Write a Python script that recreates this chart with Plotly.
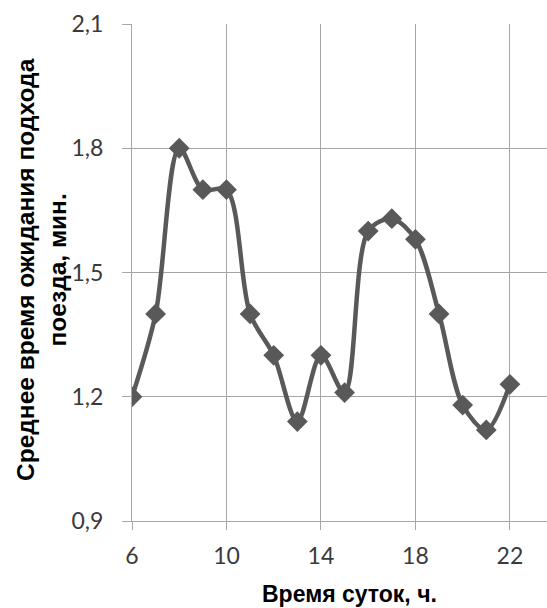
import plotly.graph_objects as go

hours = [6, 7, 8, 9, 10, 11, 12, 13, 14, 15, 16, 17, 18, 19, 20, 21, 22]
wait_min = [1.20, 1.40, 1.80, 1.70, 1.70, 1.40, 1.30, 1.14, 1.30, 1.21, 1.60, 1.63, 1.58, 1.40, 1.18, 1.12, 1.23]
x_ticks = [6, 10, 14, 18, 22]
y_ticks = [0.9, 1.2, 1.5, 1.8, 2.1]

x_title = "Время суток, ч."
y_title = "Среднее время ожидания подхода<br>поезда, мин."

col = "#595959"
grid = "#a6a6a6"

fig = go.Figure(go.Scatter(
    x=hours, y=wait_min, mode="lines+markers",
    line=dict(color=col, width=4.5, shape="spline", smoothing=0.9),
    marker=dict(symbol="diamond", size=16, color=col),
    showlegend=False,
))

fig.update_layout(
    width=547, height=608,
    margin=dict(l=132, r=0, t=24, b=87),
    paper_bgcolor="white", plot_bgcolor="white",
    separators=", ",
    font=dict(family="Lato", size=23, color="#3a3a3a"),
)
fig.update_xaxes(
    range=[6, 23.57], tickvals=x_ticks, ticktext=[str(v) for v in x_ticks],
    showgrid=True, gridcolor=grid, gridwidth=1,
    showline=True, linecolor=grid, linewidth=1,
    ticks="outside", ticklen=8, tickcolor=grid, zeroline=False,
    ticklabelstandoff=6,
)
fig.update_yaxes(
    range=[0.9, 2.1], tickvals=y_ticks, ticktext=[f"{v:.1f}".replace(".", ",") for v in y_ticks],
    showgrid=True, gridcolor=grid, gridwidth=1,
    showline=True, linecolor=grid, linewidth=1,
    ticks="outside", ticklen=9, tickcolor=grid, zeroline=False,
    ticklabelstandoff=14,
)
fig.add_annotation(
    text=x_title, xref="paper", yref="paper",
    x=(349 - 132) / 415, y=-(594 - 521) / 497, xanchor="center", yanchor="middle",
    showarrow=False, font=dict(family="Liberation Sans", size=23, color="black", weight="bold"),
)
fig.add_annotation(
    text=y_title, xref="paper", yref="paper", textangle=-90,
    x=(41 - 132) / 415, y=(521 - 270) / 497, xanchor="center", yanchor="middle",
    showarrow=False, font=dict(family="Liberation Sans", size=24.5, color="black", weight="bold"),
)
fig.write_html("out.html", config={"displayModeBar": False},
               post_script="document.body.style.margin='0';document.body.style.overflow='hidden';")
